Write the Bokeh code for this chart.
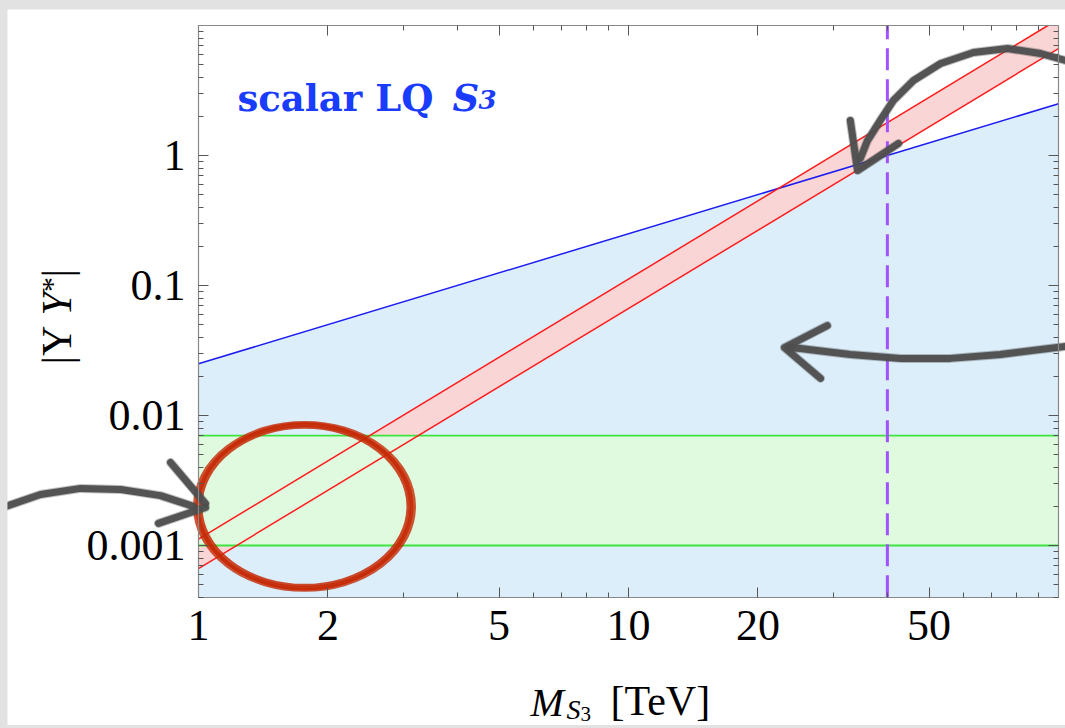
import math
from bokeh.plotting import figure
from bokeh.models import LogAxis, FixedTicker, CustomJSTickFormatter, Label
from bokeh.layouts import column
from bokeh.embed import file_html
from bokeh.resources import INLINE

# ---------------- data ----------------
M_ends = [1.0, 100.0]                 # M_S3 [TeV], plotted range
blue_limit = [0.025, 2.5]             # blue bound |Y Y*|
red_upper = [0.00112, 11.2]           # upper edge of red band
red_lower = [0.000665, 6.65]          # lower edge of red band
green_low = [0.001, 0.001]            # green band lower edge
green_high = [0.007, 0.007]           # green band upper edge
M_purple = [40.0, 40.0]               # dashed vertical line
Y_box = [0.0004, 10.0]                # vertical extent of the plot box

x_major = [1, 2, 5, 10, 20, 50]
x_minor = [3, 4, 6, 7, 8, 9, 30, 40, 60, 70, 80, 90]
y_major = [0.001, 0.01, 0.1, 1]
y_minor = [m * 10.0 ** e for e in range(-4, 1) for m in range(2, 10) if m * 10.0 ** e >= 4e-4]

# hand-drawn annotations (data units: M, |YY*|)
arrow1_x = [0.346, 0.429, 0.532, 0.659, 0.816, 0.973]
arrow1_y = [0.00193, 0.00247, 0.00275, 0.00270, 0.00242, 0.0020]
arrow1_b1x = [0.861, 1.038]; arrow1_b1y = [0.00435, 0.0021]
arrow1_b2x = [0.807, 1.038]; arrow1_b2y = [0.00148, 0.00196]

arrow2_x = [103.8, 73.3, 56.1, 42.9, 32.8, 25.1, 23.5]
arrow2_y = [0.0340, 0.0295, 0.0275, 0.0275, 0.0295, 0.0328, 0.0333]
arrow2_hx = [29.0, 23.05, 27.96]; arrow2_hy = [0.0492, 0.0333, 0.0193]

arrow3_x = [103.8, 90.8, 76.1, 63.4, 53.2, 46.0, 41.3, 38.5, 35.96, 34.6]
arrow3_y = [5.38, 6.09, 6.65, 6.20, 5.10, 3.775, 2.65, 1.859, 1.304, 0.948]
arrow3_hx = [32.8, 34.1, 42.45]; arrow3_hy = [1.859, 0.767, 1.237]

circle_x = [1.764]; circle_y = [0.002]

# ---------------- geometry helpers ----------------
M_LO, M_HI = M_ends
Y_BOT, Y_TOP = Y_box

def log_cut(x0, y0, x1, y1, yc):
    t = (math.log10(yc) - math.log10(y0)) / (math.log10(y1) - math.log10(y0))
    return 10 ** (math.log10(x0) + t * (math.log10(x1) - math.log10(x0)))

m_cut = log_cut(M_ends[0], red_upper[0], M_ends[1], red_upper[1], Y_TOP)

# ---------------- figure (frame covers the whole canvas; axes at fixed locations) ----
p = figure(width=1058, height=716, x_axis_type="log", y_axis_type="log",
           x_range=(0.35963, 103.82), y_range=(4.1246e-5, 13.276),
           output_backend="svg", toolbar_location=None,
           min_border_left=0, min_border_right=0, min_border_top=0,
           min_border_bottom=0, margin=(9, 0, 3, 7))
p.title.visible = False
p.background_fill_color = "white"
p.border_fill_color = "white"
p.outline_line_color = None
p.grid.visible = False

SERIF = "Liberation Serif"

def style_axis(ax, ticker, show_labels, loc, bounds):
    ax.ticker = ticker
    ax.fixed_location = loc
    ax.bounds = bounds
    ax.axis_line_color = "#888888"
    ax.axis_line_width = 1.2
    ax.major_tick_line_color = "#555555"
    ax.minor_tick_line_color = "#555555"
    ax.major_tick_in = 10
    ax.major_tick_out = 0
    ax.minor_tick_in = 5
    ax.minor_tick_out = 0
    if show_labels:
        ax.formatter = CustomJSTickFormatter(code="return String(tick);")
        ax.major_label_text_font = SERIF
        ax.major_label_text_font_size = "44px"
        ax.major_label_text_color = "black"
    else:
        ax.formatter = CustomJSTickFormatter(code="return '';")
        ax.major_label_text_font_size = "0px"
        ax.major_label_standoff = 0
    ax.axis_label = None

xt = FixedTicker(ticks=x_major, minor_ticks=x_minor)
yt = FixedTicker(ticks=y_major, minor_ticks=y_minor)
style_axis(p.xaxis[0], xt, True, Y_BOT, (M_LO, M_HI))
style_axis(p.yaxis[0], yt, True, M_LO, (Y_BOT, Y_TOP))
p.xaxis[0].major_label_standoff = 14
p.yaxis[0].major_label_standoff = 13

top_ax = LogAxis()
style_axis(top_ax, xt, False, Y_TOP, (M_LO, M_HI))
p.add_layout(top_ax, "above")
right_ax = LogAxis()
style_axis(right_ax, yt, False, M_HI, (Y_BOT, Y_TOP))
p.add_layout(right_ax, "right")

# fills
p.varea(x=M_ends, y1=[Y_BOT, Y_BOT], y2=blue_limit, fill_color="#dbeefa")
p.patch([M_ends[0], M_ends[1], M_ends[1], m_cut, M_ends[0]],
        [red_lower[0], red_lower[1], Y_TOP, Y_TOP, red_upper[0]],
        fill_color="#fad5d5", line_color=None)
p.varea(x=M_ends, y1=green_low, y2=green_high, fill_color="#dffadf")

# lines
p.line(M_ends, blue_limit, line_color="#1c1cf0", line_width=1.5)
p.line(M_ends, green_low, line_color="#3fe43f", line_width=1.8)
p.line(M_ends, green_high, line_color="#3fe43f", line_width=1.8)
p.line([M_ends[0], m_cut], [red_upper[0], Y_TOP], line_color="#ff1c1c", line_width=1.5)
p.line(M_ends, red_lower, line_color="#ff1c1c", line_width=1.5)
p.line(M_purple, Y_box, line_color="#a352ff", line_width=3, line_dash="22 9")

# red hand-drawn circle (several strokes)
for w, h, lw, a in [(214, 163, 4.0, 0.95), (207, 158, 3.0, 0.85), (220, 168, 3.0, 0.8), (211, 166, 2.5, 0.7)]:
    p.ellipse(x=circle_x, y=circle_y, width=w, height=h, width_units="screen",
              height_units="screen", fill_alpha=0, line_color="#c62a06",
              line_width=lw, line_alpha=a)

# gray hand-drawn arrows
GRAY = "#4e4e4e"
def stroke(xs, ys, lw=7):
    for width, alpha in [(lw + 2, 0.35), (lw, 0.95)]:
        p.line(xs, ys, line_color=GRAY, line_width=width, line_alpha=alpha,
               line_join="round", line_cap="round")

for xs, ys in [(arrow1_x, arrow1_y), (arrow1_b1x, arrow1_b1y), (arrow1_b2x, arrow1_b2y),
               (arrow2_x, arrow2_y), (arrow2_hx, arrow2_hy),
               (arrow3_x, arrow3_y), (arrow3_hx, arrow3_hy)]:
    stroke(xs, ys)

# text helpers
BLUE = "#1a3cff"
def label(x, y, text, size, font=SERIF, style="normal", color="black", angle=0.0):
    p.add_layout(Label(x=x, y=y, text=text, text_font=font, text_font_style=style,
                       text_font_size=size, text_color=color, angle=angle,
                       text_baseline="alphabetic", text_align="left"))

# title text inside plot
label(1.232, 2.79, "scalar LQ ", "37px", "DejaVu Serif", "bold", BLUE)
label(3.897, 2.79, "S", "37px", "DejaVu Serif", "bold italic", BLUE)
label(4.479, 2.697, "3", "26px", "DejaVu Serif", "bold italic", BLUE)

# x axis label  M_{S_3}  [TeV]
label(5.917, 6.197e-5, "M", "40px", style="italic")
label(7.175, 5.476e-5, "S", "28px", style="italic")
label(7.733, 5.101e-5, "3", "21px")
label(9.082, 6.31e-5, "[TeV]", "42px")

# y axis label |Y Y*| (rotated)
ROT = 1.5707963
label(0.47, 0.02468, "|Y ", "42px", angle=ROT)
label(0.47, 0.05878, "Y", "42px", style="italic", angle=ROT)
label(0.455, 0.08897, "*", "30px", angle=ROT)
label(0.47, 0.1152, "|", "42px", angle=ROT)

layout = column(p, styles={"background-color": "#e2e2e2"})
open("out.html", "w").write(file_html(layout, INLINE))
